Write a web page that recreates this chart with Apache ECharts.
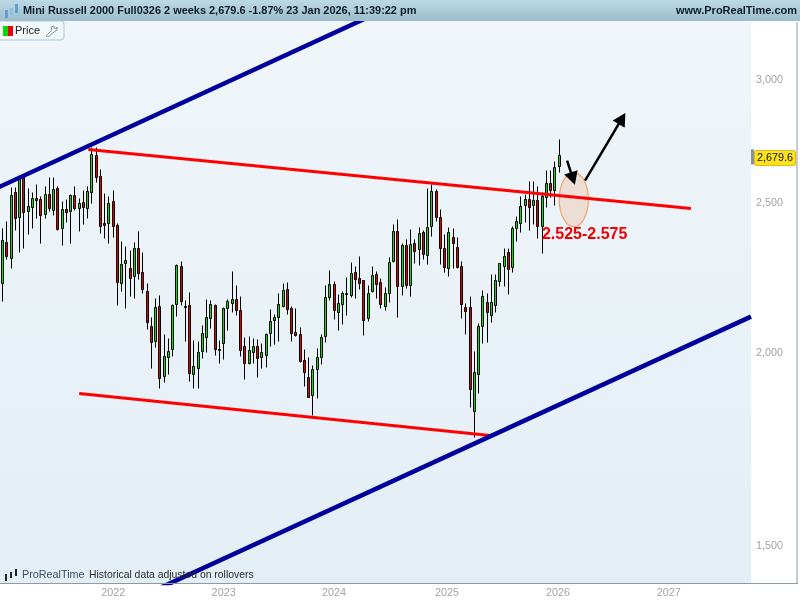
<!DOCTYPE html>
<html>
<head>
<meta charset="utf-8">
<style>
    html, body { margin: 0; padding: 0; background: #fff; }
    #chart { width: 800px; height: 600px; }
</style>
<script src="https://cdn.jsdelivr.net/npm/echarts@6/dist/echarts.min.js"></script>
</head>
<body>
<div id="chart"></div>
<script>
// 2 week bars
var dates = [
    '2021-01-11','2021-01-25','2021-02-08','2021-02-22','2021-03-08','2021-03-22','2021-04-05','2021-04-19','2021-05-03','2021-05-17','2021-05-31','2021-06-14','2021-06-28',
    '2021-07-12','2021-07-26','2021-08-09','2021-08-23','2021-09-06','2021-09-20','2021-10-04','2021-10-18','2021-11-01','2021-11-15','2021-11-29','2021-12-13','2021-12-27',
    '2022-01-10','2022-01-24','2022-02-07','2022-02-21','2022-03-07','2022-03-21','2022-04-04','2022-04-18','2022-05-02','2022-05-16','2022-05-30','2022-06-13','2022-06-27',
    '2022-07-11','2022-07-25','2022-08-08','2022-08-22','2022-09-05','2022-09-19','2022-10-03','2022-10-17','2022-10-31','2022-11-14','2022-11-28','2022-12-12','2022-12-26',
    '2023-01-09','2023-01-23','2023-02-06','2023-02-20','2023-03-06','2023-03-20','2023-04-03','2023-04-17','2023-05-01','2023-05-15','2023-05-29','2023-06-12','2023-06-26',
    '2023-07-10','2023-07-24','2023-08-07','2023-08-21','2023-09-04','2023-09-18','2023-10-02','2023-10-16','2023-10-30','2023-11-13','2023-11-27','2023-12-11','2023-12-25',
    '2024-01-08','2024-01-22','2024-02-05','2024-02-19','2024-03-04','2024-03-18','2024-04-01','2024-04-15','2024-04-29','2024-05-13','2024-05-27','2024-06-10','2024-06-24',
    '2024-07-08','2024-07-22','2024-08-05','2024-08-19','2024-09-02','2024-09-16','2024-09-30','2024-10-14','2024-10-28','2024-11-11','2024-11-25','2024-12-09','2024-12-23',
    '2025-01-06','2025-01-20','2025-02-03','2025-02-17','2025-03-03','2025-03-17','2025-03-31','2025-04-14','2025-04-28','2025-05-12','2025-05-26','2025-06-09','2025-06-23',
    '2025-07-07','2025-07-21','2025-08-04','2025-08-18','2025-09-01','2025-09-15','2025-09-29','2025-10-13','2025-10-27','2025-11-10','2025-11-24','2025-12-08','2025-12-22',
    '2026-01-05','2026-01-19'
];
var opens = [
    2217,2356,2300,2538,2445,2595,2467,2481,2515,2511,2456,2530,2470,2553,2406,2474,2467,2526,2478,2500,2478,2538,2681,2599,2424,2424,
    2504,2417,2217,2283,2266,2240,2335,2253,2191,2079,2033,2141,1930,1985,2009,2148,2274,2141,2145,1936,1953,2003,2045,2104,2145,2009,
    2027,2135,2151,2164,2129,2018,1968,2000,2018,1985,1991,2058,2098,2107,2141,2197,2135,2061,2054,1976,1928,1875,1950,1985,2048,2171,
    2214,2123,2148,2184,2177,2253,2233,2227,2104,2191,2246,2220,2141,2184,2290,2395,2207,2345,2210,2352,2331,2391,2311,2413,2541,2445,
    2335,2266,2373,2338,2274,2138,2138,1833,1936,2079,2155,2113,2145,2224,2274,2321,2270,2406,2424,2489,2511,2489,2507,2413,2518,2572,
    2545,2638
];
var closes = [
    2363,2307,2526,2441,2587,2463,2485,2515,2507,2452,2530,2478,2549,2402,2474,2463,2526,2478,2496,2481,2541,2685,2595,2413,2417,2496,
    2413,2220,2280,2294,2233,2335,2250,2197,2092,2030,2138,1925,1988,2003,2145,2277,2158,2138,1939,1959,2000,2058,2107,2148,2009,2006,
    2135,2158,2164,2129,2006,1968,2006,2018,1982,2000,2054,2095,2107,2148,2194,2132,2058,2051,1973,1942,1872,1950,1985,2045,2171,2214,
    2129,2151,2184,2180,2250,2230,2217,2098,2184,2243,2214,2148,2184,2287,2395,2207,2345,2210,2349,2324,2388,2314,2409,2541,2445,2335,
    2270,2391,2352,2270,2148,2126,1894,1942,2079,2174,2123,2155,2227,2283,2307,2263,2406,2431,2485,2511,2481,2507,2413,2522,2572,2545,
    2634,2679.6
];
var lows = [
    2158,2297,2266,2398,2321,2335,2384,2406,2441,2352,2441,2467,2452,2398,2345,2427,2352,2470,2395,2420,2441,2496,2575,2388,2370,2352,
    2373,2145,2191,2135,2174,2167,2230,2184,2070,1953,2015,1897,1914,1936,1988,2110,2145,2033,1916,1897,1897,1982,2000,2073,1991,1968,
    1979,2067,2123,2113,1988,1922,1965,1968,1928,1953,1956,2018,2024,2033,2138,2116,2033,2048,1971,1902,1870,1822,1869,1965,2030,2161,
    2101,2067,2085,2113,2171,2167,2197,2051,2095,2187,2167,2135,2129,2155,2287,2107,2177,2200,2174,2283,2277,2297,2280,2377,2431,2280,
    2253,2240,2266,2266,2104,2054,1844,1764,1883,2027,2030,2092,2123,2207,2207,2180,2253,2359,2391,2427,2398,2420,2370,2317,2481,2518,
    2489,2614
];
var highs = [
    2406,2431,2556,2556,2591,2606,2553,2538,2568,2522,2560,2595,2595,2560,2504,2511,2530,2560,2515,2545,2560,2713,2713,2626,2534,2522,
    2545,2424,2359,2341,2328,2356,2395,2321,2217,2107,2167,2177,2054,2042,2148,2279,2290,2161,2187,2036,2033,2082,2164,2161,2148,2036,
    2138,2164,2256,2210,2174,2045,2048,2042,2039,2027,2058,2132,2116,2184,2217,2220,2141,2135,2076,2009,1985,1962,2012,2054,2210,2260,
    2224,2180,2191,2237,2287,2273,2307,2227,2210,2273,2256,2233,2204,2304,2420,2438,2352,2366,2402,2366,2409,2398,2553,2568,2549,2474,
    2384,2409,2406,2373,2290,2151,2174,2003,2088,2194,2184,2246,2246,2285,2335,2335,2413,2449,2522,2530,2579,2579,2560,2538,2622,2622,
    2657,2746
];

var yTicks = [1500, 2000, 2500, 3000];
var yearTicks = ['2022-01-10', '2023-01-09', '2024-01-08', '2025-01-14', '2026-01-15', '2027-01-15'];
var lastPrice = 2679.6;
var axisStart = '2021-01-02';
var axisEnd = '2027-10-13';

// lines drawn on the chart, [date, price]
var channelTop = [['2020-12-01', 2543], ['2024-08-12', 3366]];
var channelBottom = [['2022-05-12', 1400], ['2027-10-13', 2110]];
var resistance = [['2021-10-20', 2705], ['2027-03-29', 2478]];
var support = [['2021-09-20', 1882], ['2025-06-05', 1768]];
var arrowDown = [['2026-02-14', 2661], ['2026-03-05', 2591]];
var arrowUp = [['2026-04-14', 2583], ['2026-08-14', 2833]];
// ellipse: left date, right date, low price, high price
var targetZone = ['2026-01-19', '2026-04-25', 2412, 2614];
var targetLabel = ['2025-11-23', 2383, '2.525-2.575'];

function toTime(d) {
    return echarts.time.parse(d).getTime();
}

var candles = dates.map(function (d, i) {
    return [toTime(d), opens[i], closes[i], lows[i], highs[i]];
});

function trendLine(points, color, width) {
    return {
        type: 'line',
        data: points,
        symbol: 'none',
        silent: true,
        z: 4,
        lineStyle: { color: color, width: width, cap: 'butt' }
    };
}

function arrowLine(points) {
    return {
        type: 'line',
        data: [],
        silent: true,
        z: 5,
        markLine: {
            silent: true,
            animation: false,
            symbol: ['none', 'triangle'],
            symbolSize: [14, 13],
            label: { show: false },
            lineStyle: { color: '#000', width: 2.5, type: 'solid' },
            data: [[{ coord: [toTime(points[0][0]), points[0][1]] }, { coord: [toTime(points[1][0]), points[1][1]] }]]
        }
    };
}

// snap to the middle of a pixel so the 1px outlines stay sharp
function snap(v) {
    return Math.floor(v) + 0.5;
}

function renderCandle(params, api) {
    var open = api.value(1);
    var close = api.value(2);
    var t = api.value(0);
    var x = snap(api.coord([t, open])[0]);
    var yOpen = snap(api.coord([t, open])[1]);
    var yClose = snap(api.coord([t, close])[1]);
    var yLow = snap(api.coord([t, api.value(3)])[1]);
    var yHigh = snap(api.coord([t, api.value(4)])[1]);
    var top = Math.min(yOpen, yClose);
    var height = Math.abs(yOpen - yClose);
    return {
        type: 'group',
        children: [
            {
                type: 'line',
                shape: { x1: x, y1: yHigh, x2: x, y2: yLow },
                style: { stroke: '#000', lineWidth: 1 }
            },
            {
                type: 'rect',
                shape: { x: x - 1, y: top, width: 2, height: height },
                style: { fill: close >= open ? '#00e600' : '#e60000', stroke: '#000', lineWidth: 1 }
            }
        ]
    };
}

var myChart = echarts.init(document.getElementById('chart'));

var option = {
    animation: false,
    textStyle: { fontFamily: '"Liberation Sans", Arial, sans-serif' },
    title: [
        {
            text: 'Mini Russell 2000 Full0326 2 weeks 2,679.6 -1.87% 23 Jan 2026, 11:39:22 pm',
            left: 23, top: 5, padding: 0,
            textStyle: { fontSize: 10.95, fontWeight: 'bold', color: '#0c1c2a' }
        },
        {
            text: 'www.ProRealTime.com',
            right: 3, top: 5, padding: 0,
            textStyle: { fontSize: 11, fontWeight: 'bold', color: '#0c1c2a' }
        },
        {
            text: 'Price',
            left: 15, top: 25, padding: 0,
            textStyle: { fontSize: 11, fontWeight: 'normal', color: '#222' }
        },
        {
            text: 'ProRealTime',
            left: 22, top: 570, padding: 0,
            textStyle: { fontSize: 10.8, fontWeight: 'normal', color: '#3a4f62' }
        },
        {
            text: 'Historical data adjusted on rollovers',
            left: 89, top: 570, padding: 0,
            textStyle: { fontSize: 10.4, fontWeight: 'normal', color: '#2a2a2a' }
        }
    ],
    grid: {
        left: 0, right: 49, top: 21, bottom: 17,
        show: true,
        borderWidth: 0,
        backgroundColor: new echarts.graphic.LinearGradient(0, 0, 0, 1, [
            { offset: 0, color: '#f0f6fa' },
            { offset: 1, color: '#e3eef5' }
        ])
    },
    xAxis: [
        {
            type: 'time',
            min: axisStart,
            max: axisEnd,
            splitLine: { show: false },
            axisLine: { show: false },
            axisTick: { show: false },
            axisLabel: { show: false }
        },
        {
            // same span as the time axis, only carries the year labels
            type: 'value',
            position: 'bottom',
            min: toTime(axisStart),
            max: toTime(axisEnd),
            splitLine: { show: false },
            axisLine: { show: false },
            axisTick: { show: false },
            axisLabel: {
                customValues: yearTicks.map(toTime),
                formatter: function (v) { return String(new Date(v).getFullYear()); },
                color: '#a3a3a3',
                fontSize: 10.8,
                margin: 5,
                hideOverlap: false
            }
        }
    ],
    yAxis: {
        type: 'log',
        position: 'right',
        min: 1419.7,
        max: 3275,
        splitLine: { show: false },
        axisLine: { show: false },
        axisTick: { show: false },
        axisLabel: {
            customValues: yTicks,
            formatter: function (v) { return v.toLocaleString('en-US'); },
            color: '#a3a3a3',
            fontSize: 10.8,
            margin: 5,
            padding: [2, 0, 0, 0],
            align: 'left'
        }
    },
    series: [
        {
            type: 'custom',
            silent: true,
            z: 1,
            data: [[toTime(targetZone[0]), toTime(targetZone[1]), targetZone[2], targetZone[3]]],
            encode: { x: [0, 1], y: [2, 3] },
            renderItem: function (params, api) {
                var a = api.coord([api.value(0), api.value(3)]);
                var b = api.coord([api.value(1), api.value(2)]);
                return {
                    type: 'ellipse',
                    shape: { cx: (a[0] + b[0]) / 2, cy: (a[1] + b[1]) / 2, rx: (b[0] - a[0]) / 2, ry: (b[1] - a[1]) / 2 },
                    style: { fill: 'rgba(240,150,90,0.22)', stroke: '#f2a26e', lineWidth: 1.2 }
                };
            }
        },
        {
            type: 'custom',
            silent: true,
            z: 2,
            data: candles,
            encode: { x: 0, y: [1, 2, 3, 4] },
            renderItem: renderCandle
        },
        trendLine(resistance, '#ff0000', 3),
        trendLine(support, '#ff0000', 3),
        trendLine(channelTop, '#00009c', 4.5),
        trendLine(channelBottom, '#00009c', 4.5),
        arrowLine(arrowDown),
        arrowLine(arrowUp),
        {
            // current price tag
            type: 'line',
            data: [],
            silent: true,
            z: 6,
            markPoint: {
                silent: true,
                animation: false,
                symbol: 'rect',
                symbolSize: [3, 15],
                symbolOffset: [1.5, 1],
                itemStyle: { color: '#8a8f92' },
                label: {
                    show: true,
                    position: 'right',
                    distance: 1,
                    offset: [0, 1],
                    formatter: '2,679.6',
                    color: '#111',
                    fontSize: 10.8,
                    backgroundColor: '#ffe21f',
                    borderColor: '#d9bd10',
                    borderWidth: 1,
                    borderRadius: 2,
                    padding: [2, 2, 1, 2]
                },
                data: [{ coord: [toTime(axisEnd), lastPrice] }]
            }
        },
        {
            type: 'line',
            data: [],
            silent: true,
            z: 6,
            markPoint: {
                silent: true,
                animation: false,
                symbolSize: 0,
                label: {
                    show: true,
                    position: 'right',
                    distance: 0,
                    formatter: targetLabel[2],
                    color: '#f00000',
                    fontSize: 16,
                    fontWeight: 'bold'
                },
                data: [{ coord: [toTime(targetLabel[0]), targetLabel[1]] }]
            }
        }
    ],
    graphic: [
        // header bar
        {
            type: 'rect', z: 5, silent: true,
            shape: { x: 0, y: 0, width: 800, height: 21 },
            style: {
                fill: new echarts.graphic.LinearGradient(0, 0, 0, 1, [
                    { offset: 0, color: '#bcd9e6' },
                    { offset: 1, color: '#9dbdcb' }
                ])
            }
        },
        { type: 'rect', z: 5, silent: true, shape: { x: 5, y: 10, width: 3, height: 8 }, style: { fill: '#5f9fd0' } },
        { type: 'rect', z: 5, silent: true, shape: { x: 10, y: 8, width: 3, height: 7 }, style: { fill: '#8fc0e0' } },
        { type: 'rect', z: 5, silent: true, shape: { x: 15, y: 4, width: 3, height: 9 }, style: { fill: '#5f9fd0' } },
        // price button
        {
            type: 'rect', z: 5, silent: true,
            shape: { x: -4, y: 21, width: 68, height: 19, r: 3 },
            style: { fill: '#f2f7fa', stroke: '#a9c9da', lineWidth: 1 }
        },
        { type: 'rect', z: 5, silent: true, shape: { x: 3, y: 26, width: 5, height: 10 }, style: { fill: '#00e000' } },
        { type: 'rect', z: 5, silent: true, shape: { x: 8, y: 26, width: 5, height: 10 }, style: { fill: '#f00000' } },
        {
            type: 'polyline', z: 7, silent: true,
            shape: { points: [[46, 36], [52, 30], [51, 27], [54, 26], [54, 28], [56, 29], [57, 27], [57, 30], [54, 32], [48, 37], [46, 36]] },
            style: { fill: null, stroke: '#7d9fb3', lineWidth: 1 }
        },
        // frame
        { type: 'rect', z: 5, silent: true, shape: { x: 0, y: 583, width: 798, height: 1 }, style: { fill: '#8a9ba5' } },
        { type: 'rect', z: 5, silent: true, shape: { x: 796.5, y: 22, width: 1, height: 562 }, style: { fill: '#8a9ba5' } },
        // small logo
        { type: 'rect', z: 7, silent: true, shape: { x: 5, y: 574, width: 2, height: 7 }, style: { fill: '#222' } },
        { type: 'rect', z: 7, silent: true, shape: { x: 10, y: 572, width: 2, height: 6 }, style: { fill: '#222' } },
        { type: 'rect', z: 7, silent: true, shape: { x: 15, y: 569, width: 2, height: 7 }, style: { fill: '#222' } }
    ]
};

myChart.setOption(option);
</script>
</body>
</html>
